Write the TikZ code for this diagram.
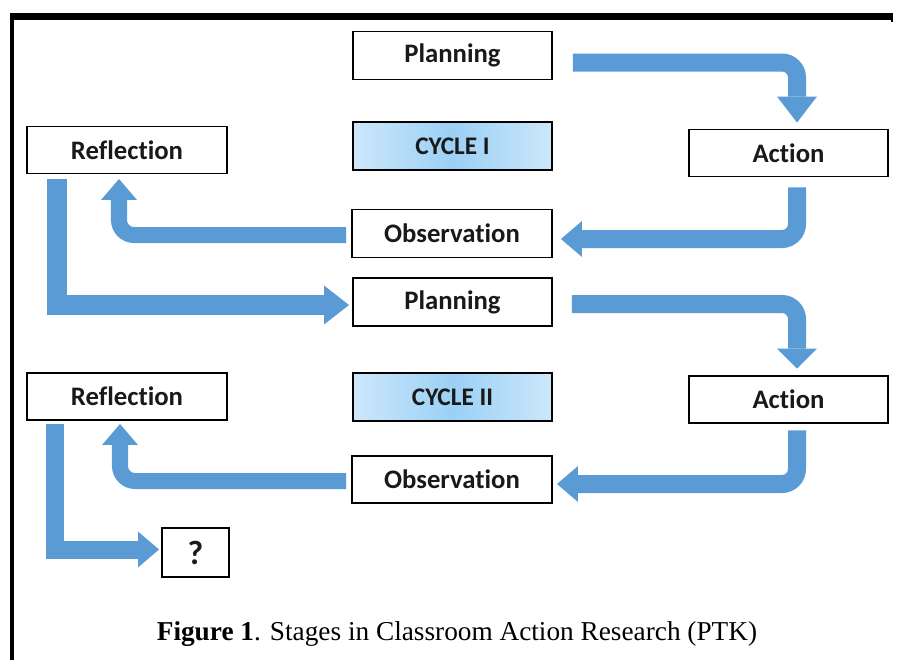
\documentclass[tikz,border=0pt]{standalone}
\usepackage{fontspec}
\setmainfont{Carlito}[RawFeature={-liga}]
\newfontfamily\capfont{Liberation Serif}
\usetikzlibrary{arrows.meta}

% one unit = one pixel of the layout grid (0.025cm)
\newlength{\pxu}
\setlength{\pxu}{0.025cm}
\newcommand{\stagewidth}{199\pxu}
\newcommand{\stageheight}{48\pxu}

\definecolor{flowblue}{RGB}{91,155,213}
\definecolor{cyclepale}{RGB}{205,231,250}
\definecolor{cycledeep}{RGB}{155,208,245}

\begin{document}
\begin{tikzpicture}[x=0.025cm, y=-0.025cm,
    stage/.style={draw, line width=1.4pt, minimum width=\stagewidth,
        minimum height=\stageheight, inner sep=0pt, text=black!90,
        font=\bfseries\fontsize{19}{21}\selectfont},
    cyclebox/.style={stage, left color=cyclepale, right color=cyclepale,
        middle color=cycledeep, font=\bfseries\fontsize{18}{20}\selectfont},
    flow/.style={draw=flowblue, line width=0.45cm, rounded corners=0.375cm,
        -{Triangle[width=0.9cm, length=0.525cm, line width=0pt]}}]

\useasboundingbox (0,0) rectangle (897,660);

% frame
\draw [line width=0.175cm] (12,16.5) -- (893,16.5);
\draw [line width=0.1cm] (12,13) -- (12,660);
\draw [line width=0.05cm] (892,13) -- (892,22);

% cycle I
\node [stage] (plan1) at (452.5,55.5) {Planning};
\node [cyclebox] (cyc1) at (452.5,146) {CYCLE I};
\node [stage, minimum width=200\pxu, minimum height=47\pxu] (refl1) at (127,150) {Reflection};
\node [stage, minimum height=47\pxu] (act1) at (788.5,153) {Action};
\node [stage, minimum width=200\pxu] (obs1) at (452,233.5) {Observation};

% cycle II
\node [stage] (plan2) at (452.5,302) {Planning};
\node [cyclebox] (cyc2) at (452.5,397) {CYCLE II};
\node [stage, minimum width=200\pxu, minimum height=47\pxu] (refl2) at (127,396.5) {Reflection};
\node [stage, minimum height=47\pxu] (act2) at (788.5,399.5) {Action};
\node [stage, minimum width=200\pxu, minimum height=47\pxu] (obs2) at (452,479.5) {Observation};

% next step
\node [stage, minimum width=67\pxu, minimum height=49\pxu,
    font=\bfseries\fontsize{24}{26}\selectfont] (next) at (195.5,552.5) {?};

% flow of cycle I
\draw [flow, -{Triangle[width=1cm, length=0.65cm, line width=0pt]}]
    ([shift={(20,7)}]plan1.east) -| ([shift={(8.5,-6)}]act1.north);
\draw [flow] ([shift={(8.5,10)}]act1.south) |- ([shift={(8,5.5)}]obs1.east);
\draw [flow, line width=0.4cm] ([shift={(-5,1.5)}]obs1.west) -| ([shift={(-8,4.5)}]refl1.south);
\draw [flow, sharp corners, line width=0.5cm,
    -{Triangle[width=0.975cm, length=0.625cm, line width=0pt]}]
    ([shift={(31,4.5)}]refl1.south west) |- ([shift={(-3,3)}]plan2.west);

% flow of cycle II
\draw [flow, -{Triangle[width=1cm, length=0.5cm, line width=0pt]}]
    ([shift={(19,2)}]plan2.east) -| ([shift={(8.5,-6.5)}]act2.north);
\draw [flow] ([shift={(8.5,6.5)}]act2.south) |- ([shift={(4,4.5)}]obs2.east);
\draw [flow, line width=0.4cm] ([shift={(-5,1.5)}]obs2.west) -| ([shift={(-7,3)}]refl2.south);
\draw [flow, sharp corners] ([shift={(29,3)}]refl2.south west) |- ([shift={(-2,-3)}]next.west);

% caption
\node (caption) at (457,634) {\capfont\fontsize{19.4}{22}\selectfont
    \textbf{Figure 1}. Stages in Classroom Action Research (PTK)};

\end{tikzpicture}
\end{document}
